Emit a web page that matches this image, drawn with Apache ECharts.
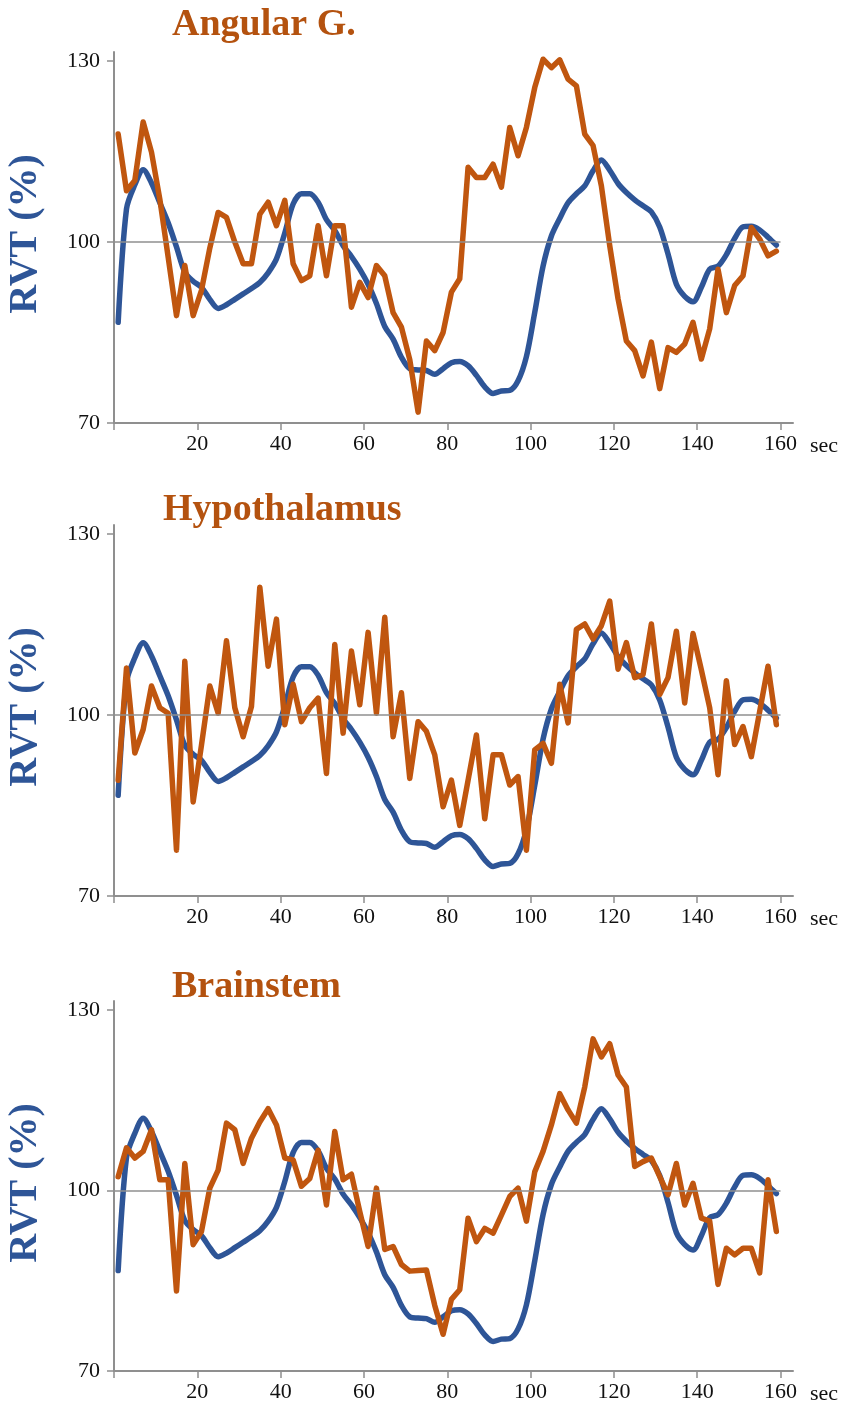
<!DOCTYPE html>
<html>
<head>
<meta charset="utf-8">
<title>RVT</title>
<script src="https://cdn.jsdelivr.net/npm/echarts@6/dist/echarts.min.js"></script>
<style>
html,body{margin:0;padding:0;background:#fff;}
#chart{width:841px;height:1405px;}
</style>
</head>
<body>
<div id="chart"></div>
<script>
// time (sec), one sample every 2 s
var secs = [1,3,5,7,9,11,13,15,17,19,21,23,25,27,29,31,33,35,37,39,
  41,43,45,47,49,51,53,55,57,59,61,63,65,67,69,71,73,75,77,79,
  81,83,85,87,89,91,93,95,97,99,101,103,105,107,109,111,113,115,117,119,
  121,123,125,127,129,131,133,135,137,139,141,143,145,147,149,151,153,155,157,159];

// reference RVT (blue), same in every panel
var rvtRef = [86.7,105.5,109.5,112.0,109.8,106.5,103.2,99.2,95.0,93.5,
  92.5,90.5,89.0,89.6,90.5,91.4,92.3,93.3,94.9,97.2,
  101.5,106.3,108.0,108.0,106.6,103.7,101.9,99.4,97.6,95.5,
  93.0,89.8,86.0,83.9,80.9,79.0,78.8,78.7,78.1,79.0,
  80.0,80.2,79.5,77.9,76.0,74.9,75.3,75.4,77.0,81.0,
  88.3,96.0,101.0,103.9,106.5,108.0,109.3,111.8,113.6,111.9,
  109.7,108.2,107.0,106.0,105.0,102.5,98.0,93.0,91.0,90.1,
  92.5,95.5,96.0,97.9,100.6,102.5,102.6,102.0,100.8,99.5];

// regional RVT (orange)
var angular = [117.9,108.5,110.2,119.9,114.9,107.1,97.5,87.8,96.1,87.8,
  92.0,99.0,104.9,104.1,100.0,96.4,96.4,104.6,106.6,102.7,
  106.9,96.4,93.6,94.4,102.7,94.4,102.7,102.7,89.2,93.3,
  90.8,96.1,94.4,88.3,85.9,80.5,71.8,83.6,82.0,85.0,
  91.7,93.9,112.4,110.7,110.7,112.9,109.1,119.0,114.3,119.0,
  125.6,130.3,128.9,130.2,127.0,125.9,117.9,116.0,109.3,99.4,
  90.6,83.6,82.0,77.8,83.4,75.7,82.5,81.7,83.1,86.7,
  80.6,85.6,95.5,88.3,92.8,94.4,102.4,100.5,97.7,98.5];

var hypothal = [89.2,107.8,93.7,97.6,104.8,101.2,100.3,77.6,108.9,85.6,
  95.0,104.8,100.3,112.3,101.2,96.4,101.4,121.2,108.1,115.9,
  98.4,105.1,98.9,101.2,102.8,90.3,111.7,97.0,110.6,101.7,
  113.7,100.3,116.2,96.4,103.7,89.5,98.9,97.3,93.4,84.8,
  89.2,81.7,89.2,96.7,82.8,93.4,93.4,88.4,89.8,77.6,
  94.2,95.3,92.0,105.1,98.7,114.2,115.1,112.6,114.8,118.9,
  107.6,112.0,106.2,106.7,115.1,103.4,106.2,113.9,102.0,113.5,
  107.5,101.2,90.1,105.7,95.1,98.1,93.1,100.6,108.1,98.4];

var brainstem = [102.3,107.1,105.4,106.5,110.1,101.8,101.8,83.3,104.5,91.0,
  93.2,100.4,103.4,111.2,110.1,104.5,108.7,111.4,113.6,110.9,
  105.4,105.1,100.7,102.0,106.7,97.6,109.8,101.8,102.7,96.5,
  90.7,100.4,90.2,90.7,87.7,86.6,86.7,86.8,80.9,76.1,
  81.9,83.5,95.4,91.5,93.7,92.9,95.9,99.0,100.4,94.9,
  103.1,106.5,110.9,116.1,113.4,111.2,117.2,125.2,122.2,124.4,
  119.2,117.2,104.0,104.8,105.4,102.3,99.3,104.5,97.6,101.2,
  95.4,94.9,84.4,90.4,89.3,90.4,90.4,86.3,101.8,93.2];

var titles = ['Angular G.', 'Hypothalamus', 'Brainstem'];
var xTicks = [20, 40, 60, 80, 100, 120, 140, 160];
var yTicks = [70, 100, 130];

var panels = [angular, hypothal, brainstem];
var gridTops = [52, 525, 1001];
var titlePos = [[172, 27], [163, 512], [172, 989]];

var BLUE = '#2e5597';
var ORANGE = '#c0560f';
var GREY = '#8f8f8f';

function pairs(vals) {
  var out = [];
  for (var i = 0; i < secs.length; i++) out.push([secs[i], vals[i]]);
  return out;
}

var chart = echarts.init(document.getElementById('chart'));
var grids = [], xAxes = [], yAxes = [], series = [], graphics = [];

for (var p = 0; p < 3; p++) {
  grids.push({left: 114, top: gridTops[p], width: 679, height: 371});
  xAxes.push({
    type: 'value', gridIndex: p, min: 0, max: 163, interval: 20,
    name: 'sec', nameLocation: 'end', nameGap: 17,
    nameTextStyle: {color: '#111', fontFamily: 'Liberation Serif', fontSize: 22,
      verticalAlign: 'top', padding: [12, 0, 0, 0]},
    axisLine: {show: true, onZero: false, lineStyle: {color: GREY, width: 2}},
    axisTick: {show: true, length: 7, lineStyle: {color: GREY, width: 1.5},
      customValues: [0].concat(xTicks)},
    axisLabel: {color: '#111', fontFamily: 'Liberation Serif', fontSize: 22, margin: 10,
      customValues: xTicks},
    splitLine: {show: false}
  });
  yAxes.push({
    type: 'value', gridIndex: p, min: 70, max: 131.5,
    axisLine: {show: true, lineStyle: {color: GREY, width: 2}},
    axisTick: {show: true, length: 7, lineStyle: {color: GREY, width: 1.5},
      customValues: yTicks},
    axisLabel: {color: '#111', fontFamily: 'Liberation Serif', fontSize: 22, margin: 14,
      customValues: yTicks},
    splitLine: {show: false}
  });
  // the 100% line
  series.push({
    type: 'line', xAxisIndex: p, yAxisIndex: p, data: [], z: 1,
    markLine: {
      silent: true, symbol: 'none', label: {show: false},
      lineStyle: {color: GREY, width: 1.5, type: 'solid'},
      data: [[{coord: [0, 100]}, {coord: [160, 100]}]]
    }
  });
  series.push({
    type: 'line', xAxisIndex: p, yAxisIndex: p, data: pairs(rvtRef),
    showSymbol: false, smooth: 0.3, z: 2,
    lineStyle: {color: BLUE, width: 5.5, cap: 'round', join: 'round'}
  });
  series.push({
    type: 'line', xAxisIndex: p, yAxisIndex: p, data: pairs(panels[p]),
    showSymbol: false, z: 3,
    lineStyle: {color: ORANGE, width: 5.5, cap: 'round', join: 'round'}
  });

  graphics.push({
    type: 'text', left: titlePos[p][0], top: titlePos[p][1] - 21,
    style: {text: titles[p], fill: '#b4520f', font: 'bold 38px "Liberation Serif"'}
  });
  graphics.push({
    type: 'text', x: 26, y: gridTops[p] + 182, rotation: Math.PI / 2,
    style: {text: 'RVT (%)', fill: BLUE, font: 'bold 40px "Liberation Serif"',
      align: 'center', verticalAlign: 'middle'}
  });
}

chart.setOption({
  animation: false,
  grid: grids,
  xAxis: xAxes,
  yAxis: yAxes,
  series: series,
  graphic: graphics
});
</script>
</body>
</html>
